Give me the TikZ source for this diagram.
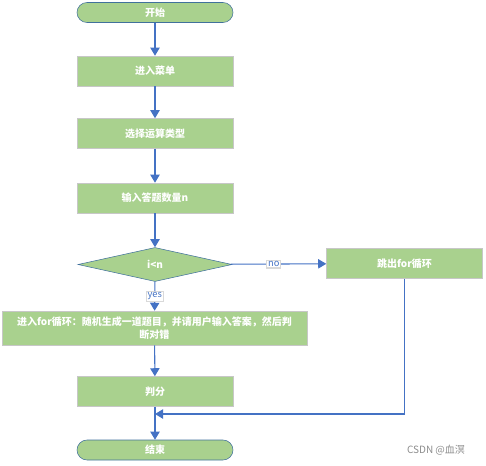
\documentclass[tikz,border=0pt]{standalone}
\usepackage{fontspec}
\setmainfont{Noto Sans CJK SC}
\usetikzlibrary{shapes.geometric,arrows.meta,positioning}
\definecolor{boxgreen}{HTML}{A9D18E}
\definecolor{flowblue}{HTML}{4472C4}
\definecolor{termline}{HTML}{41719C}

\begin{document}
\begin{tikzpicture}[x=0.75pt, y=-0.75pt,
  every node/.style={font=\fontsize{7.5}{9.5}\selectfont\bfseries, text=white},
  box/.style={draw=black!22, fill=boxgreen, minimum width=117pt, minimum height=22.5pt, inner sep=1pt},
  term/.style={draw=termline, fill=boxgreen, rounded corners=7.5pt, minimum width=117pt, minimum height=15pt, inner sep=1pt},
  cond/.style={draw=termline, fill=boxgreen, diamond, aspect=4.5, minimum width=115.5pt, minimum height=25.5pt, inner sep=0pt},
  flow/.style={draw=flowblue, line width=0.8pt, -{Triangle[width=7pt,length=6pt]}},
  tag/.style={draw=black!15, fill=white, text=flowblue, font=\fontsize{7}{8}\selectfont, inner sep=1pt}]
  \useasboundingbox (0,0) rectangle (486,465);
  \node[term] (start) at (155,12.5) {开始};
  \foreach \n/\y/\t in {menu/71/进入菜单, kind/133.5/选择运算类型, num/198/输入答题数量n, score/391.5/判分} {
    \node[box] (\n) at (155,\y) {\t};
  }
  \node[cond] (test) at (155,264.5) {i<n};
  \node[box] (quit) at (404.5,263.5) {跳出for循环};
  \node[box, minimum width=229pt, minimum height=25.5pt, align=center] (loop) at (154.5,328) {进入for循环：随机生成一道题目，并请用户输入答案，然后判\\断对错};
  \node[term] (stop) at (155,450) {结束};
  \coordinate (join) at (155,414);
  \foreach \a/\b in {start/menu, menu/kind, kind/num, num/test, loop/score, score/stop} {
    \draw[flow] (\a) -- (\b);
  }
  \draw[flow] (test) -- (quit) node[tag, pos=0.45] {no};
  \draw[flow] (test) -- (loop) node[tag, midway] {yes};
  \draw[flow] (quit.south) |- (join);
  \node[text=black!45, font=\fontsize{7.5}{9}\selectfont] (mark) at (436,450) {CSDN @血溟};
\end{tikzpicture}
\end{document}
